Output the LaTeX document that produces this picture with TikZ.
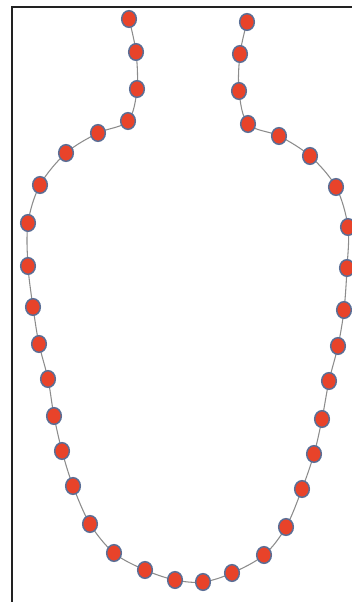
\documentclass[tikz,border=0pt]{standalone}
\usepackage{tikz}
\usetikzlibrary{shapes.geometric}
\definecolor{colBeadFill}{HTML}{E8432A}
\definecolor{colBeadEdge}{HTML}{5A6E96}
\definecolor{colCurve}   {HTML}{8C8C8C}
\definecolor{colFrame}   {HTML}{222222}
\tikzset{
  bead/.style={
    ellipse, draw=colBeadEdge, fill=colBeadFill,
    line width=1.1pt, inner sep=0pt,
    minimum width=11pt, minimum height=12.5pt
  },
  chain/.style={draw=colCurve, line width=0.8pt},
  frame/.style={draw=colFrame, line width=0.8pt}
}
\begin{document}
\begin{tikzpicture}[x=0.75pt, y=-0.75pt]
    \useasboundingbox (0,0) rectangle (352,602);
    % frame
    \draw[frame] (12,602) -- (12,7) -- (352,7);
    % curve through the beads
    \draw[chain] plot[smooth, tension=0.55] coordinates {
      (129,19) (136,52) (137,89) (128,121) (98,133) (66,153) (40,185)
      (28,223) (28,266) (33,307) (39,344) (48,379) (54,416) (62,451)
      (73,486) (90,524) (114,553) (145,570) (175,580) (203,582) (232,573)
      (264,555) (286,527) (302,489) (314,454) (322,419) (329,381) (338,346)
      (344,310) (347,268) (348,227) (336,187) (310,156) (279,136) (248,124)
      (239,91) (240,54) (247,22)};
    % beads
    \foreach \p [count=\i] in {
      (129,19), (136,52), (137,89), (128,121), (98,133), (66,153), (40,185),
      (28,223), (28,266), (33,307), (39,344), (48,379), (54,416), (62,451),
      (73,486), (90,524), (114,553), (145,570), (175,580), (203,582), (232,573),
      (264,555), (286,527), (302,489), (314,454), (322,419), (329,381), (338,346),
      (344,310), (347,268), (348,227), (336,187), (310,156), (279,136), (248,124),
      (239,91), (240,54), (247,22)}
      \node[bead] (bead\i) at \p {};
\end{tikzpicture}
\end{document}
